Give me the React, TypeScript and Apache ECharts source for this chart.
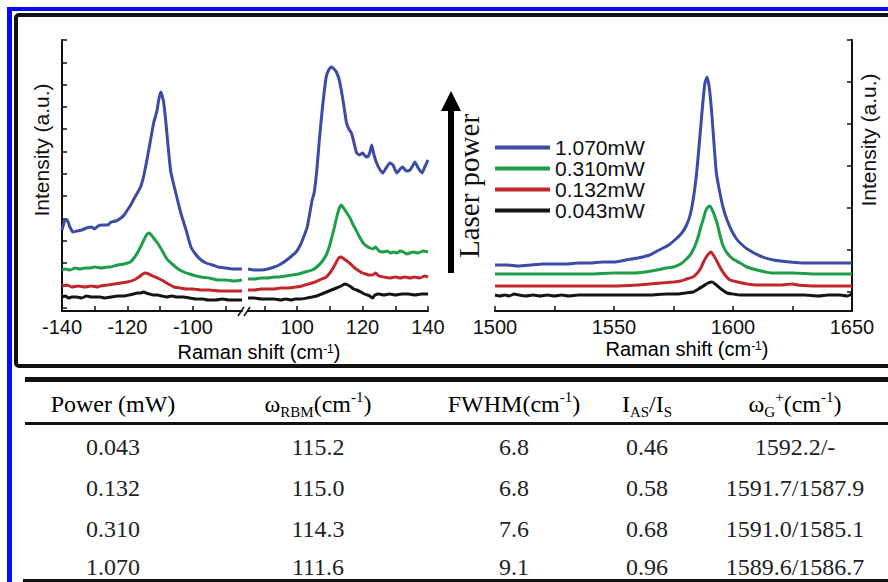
import React, { useEffect, useRef } from 'react';
import * as echarts from 'echarts';

// ---------- data ----------
const powers = ['1.070mW', '0.310mW', '0.132mW', '0.043mW'];
const colors = ['#3b4ca6', '#1f9d49', '#c1272d', '#151515'];

// Anti-Stokes RBM (left segment, -140 .. -85 cm-1), intensity a.u.
const asBlue = [[-140,81],[-139.2,90],[-138.4,91],[-137.6,84],[-136.6,79],[-135.5,80],[-134,81],[-132.5,83],[-131,84],[-130,82],[-129,85],[-127.5,86],[-126,86],[-125,89],[-123.5,90],[-122,93],[-121,96],[-120,101],[-119,106],[-118.2,111],[-117,118],[-116,124],[-115.1,134],[-114,152],[-113,170],[-112,188],[-111,200],[-110.4,212],[-109.8,219],[-109,210],[-108.3,190],[-107.5,162],[-106.8,140],[-106.2,131],[-105,115],[-103.7,98],[-102,80],[-100.6,64],[-99,56],[-97.5,51],[-96,48],[-94,46],[-92.3,44],[-90,43],[-88,42],[-86,42],[-85,42]];
const asGreen = [[-140,41],[-139,42],[-137.5,41],[-136,43],[-134.5,42],[-133,43],[-131.4,43],[-130,44],[-128,43],[-126,44],[-125.2,44],[-123,46],[-121,47],[-119.1,49],[-118,53],[-117,58],[-116,64],[-115,71],[-114.2,76],[-113.5,78],[-112.7,76],[-111.8,72],[-110.8,68],[-109.5,61],[-108.5,55],[-107.7,51],[-106,46],[-104.5,42],[-102.8,39],[-101,37],[-99,35],[-97.5,34],[-95,33],[-92.3,31],[-90,31],[-87.5,30],[-85,31]];
const asRed = [[-140,25],[-138.5,26],[-137,24],[-135,25],[-133,24],[-131,25],[-129,24],[-128.3,25],[-126,26],[-124,27],[-122,28],[-120,29],[-118,31],[-116.5,34],[-115.3,37],[-114.5,38],[-113.5,37],[-112.3,35],[-110.8,33],[-109,30],[-107.5,27],[-105.8,24],[-104,23],[-102,22],[-100,22],[-97.5,21],[-95,21],[-92,20],[-89,20],[-87,20],[-85,20]];
const asBlack = [[-140,14],[-139,15],[-138,13],[-137,14],[-135.5,14],[-134,13],[-132.5,15],[-131,14],[-129.5,14],[-128.3,14],[-127,13],[-125,14],[-123,15],[-121,15],[-119.5,16],[-118.2,17],[-117,18],[-116,18],[-115.1,19],[-114.3,18],[-113.3,17],[-112.2,16],[-110.8,16],[-109.5,15],[-108,14],[-106.5,15],[-105,14],[-102.8,14],[-101,13],[-99,12],[-97,12],[-95.4,11],[-93,11],[-91,12],[-89,11],[-87,11],[-85,11]];

// Stokes RBM (right segment, 85 .. 140 cm-1)
const sBlue = [[85,42],[87,41],[89.2,41],[91,42],[93,44],[94.5,46],[96,49],[98,54],[99.7,59],[101,66],[102,74],[103.1,84],[104,100],[104.6,111],[105.2,118],[106,140],[106.8,171],[107.8,205],[108.9,234],[109.8,242],[110.5,244],[111.3,242],[112,239],[112.8,232],[113.5,221],[114.3,205],[115.1,188],[115.8,182],[116.6,178],[117.4,168],[118.2,158],[119,156],[120,158],[120.8,155],[121.5,154],[122.2,158],[122.8,166],[123.5,156],[124.3,148],[125.2,142],[126.2,138],[127.2,143],[128.3,148],[129.3,146],[130.5,138],[131.5,142],[132.3,144],[133.3,140],[134.5,141],[135.3,145],[136,149],[137,143],[138.2,138],[139,144],[140,151]];
const sGreen = [[85,32],[87,32],[89,33],[91,33],[93,34],[94.5,34],[96.5,35],[98.5,36],[100.5,37],[102.5,39],[104.6,41],[106,44],[107.5,49],[108.9,56],[110,66],[110.8,76],[111.4,84],[112.2,95],[112.8,102],[113.5,106],[114.2,103],[115,99],[116,94],[117,87],[118,81],[119.1,74],[120.2,68],[121.2,65],[122.2,63],[123.2,62],[124,64],[125,60],[126.2,59],[127.5,60],[128.5,58],[129.5,59],[130.5,58],[131.5,60],[132.5,59],[133.5,57],[135.4,59],[137,58],[138.5,60],[140,59]];
const sRed = [[85,21],[87,21],[89,22],[91,22],[93,22],[95,23],[97,23],[99.7,24],[101.5,25],[103.5,27],[105.5,29],[107.5,32],[108.9,34],[110,38],[111,43],[112,49],[112.7,53],[113.5,54],[114.3,52],[115.2,50],[116,48],[117,45],[118,42],[119,40],[120,38],[121,37],[122,36],[123.1,36],[124,38],[125,35],[126.5,34],[128.3,33],[130,34],[131.5,33],[133,34],[134.5,33],[136,34],[137.5,33],[139,35],[140,34]];
const sBlack = [[85,13],[87,13],[89,12],[91,12],[93,12],[95,11],[96.5,12],[98.2,11],[99.5,12],[101,12],[103,13],[104.6,14],[106,15],[107.5,17],[109,19],[110.5,21],[112,23],[113.5,25],[114.5,27],[115.5,26],[116.5,24],[117.3,22],[118.2,21],[119.5,19],[120.5,17],[121.5,16],[122.2,15],[123.1,13],[123.8,16],[125,17],[126.5,16],[128.3,17],[130,16],[132,17],[134,17],[136,16],[138,17],[140,17]];

// G band (1500 .. 1650 cm-1)
const gBlue = [[1500,46],[1505,46],[1510,45],[1515,46],[1520,47],[1525,47],[1530,47],[1535,48],[1540,48],[1545,49],[1550,49],[1555,51],[1560,53],[1565,56],[1569,61],[1573,66],[1576,72],[1578.5,78],[1580.5,86],[1582,96],[1583.5,115],[1584.8,140],[1586,172],[1587.2,205],[1588.2,228],[1589.1,234],[1590,224],[1591,200],[1592,168],[1593,138],[1594.5,118],[1596,102],[1597.5,91],[1599.5,80],[1601.5,72],[1603,68],[1606,62],[1611.4,55],[1617,51],[1624,49],[1630,48],[1640,48],[1650,48]];
const gGreen = [[1500,37],[1510,37],[1520,37],[1530,37],[1540,37],[1550,38],[1558,38],[1563,39],[1568,41],[1572,43],[1575,44],[1578,47],[1580,51],[1582,56],[1583.2,61],[1584.5,68],[1585.6,76],[1586.5,84],[1587.4,91],[1588.5,100],[1589.5,104],[1590.3,105],[1591.3,101],[1592.3,95],[1593.3,88],[1594.5,76],[1595.7,66],[1597.5,58],[1600,52],[1603,48],[1605.9,44],[1610,41],[1616.8,38],[1625,38],[1635,37],[1650,37]];
const gRed = [[1500,25],[1510,25],[1520,25],[1530,25],[1540,25],[1550,25],[1560,26],[1565,27],[1570,28],[1575,29],[1578,30],[1580.5,32],[1583.2,34],[1585,38],[1586.5,43],[1587.4,48],[1588.5,53],[1589.7,57],[1590.8,59],[1592,55],[1593.2,50],[1594.5,44],[1596,38],[1598.7,31],[1602,29],[1606,27],[1610,26],[1620,26],[1625,27],[1627,26],[1635,25],[1650,25]];
const gBlack = [[1500,16],[1502,15],[1504,16],[1506,15],[1508,17],[1510,16],[1513,15],[1516,16],[1519,15],[1522,16],[1525,15],[1528,16],[1531,15],[1535,16],[1540,16],[1547,16],[1555,16],[1565,16],[1572,17],[1577,17],[1580,18],[1583.2,19],[1585.5,22],[1587.5,25],[1589.5,28],[1591.2,29],[1593,26],[1595,22],[1597.5,18],[1600,17],[1603,16],[1610,16],[1620,16],[1630,16],[1636,15],[1640,16],[1645,16],[1648,15],[1650,17]];

// ticks
const asXTicks = [-140, -130, -120, -110, -100, -90];
const asXLabels = [-140, -120, -100];
const sXTicks = [90, 100, 110, 120, 130, 140];
const sXLabels = [100, 120, 140];
const gXTicks = [1500, 1525, 1550, 1575, 1600, 1625, 1650];
const gXLabels = [1500, 1550, 1600, 1650];
const leftYTicks = [271, 248.7, 226.4, 204.1, 181.8, 159.5, 137.2, 114.9, 92.6, 70.3, 48, 25.7, 3.4];
const rightYTicks = [271, 229, 187, 145, 103, 61, 19];

// table
const tableHeaders = [
  '{t|Power (mW)}',
  '{t|ω}{sub|RBM}{t|(cm}{sup|-1}{t|)}',
  '{t|FWHM(cm}{sup|-1}{t|)}',
  '{t|I}{sub|AS}{t|/I}{sub|S}',
  '{t|ω}{sub|G}{sup|+}{t|(cm}{sup|-1}{t|)}',
];
const powerCol = ['0.043', '0.132', '0.310', '1.070'];
const rbmCol = ['115.2', '115.0', '114.3', '111.6'];
const fwhmCol = ['6.8', '6.8', '7.6', '9.1'];
const ratioCol = ['0.46', '0.58', '0.68', '0.96'];
const gPlusCol = ['1592.2/-', '1591.7/1587.9', '1591.0/1585.1', '1589.6/1586.7'];

const SANS = '"Liberation Sans", Arial, sans-serif';
const SERIF = '"Liberation Serif", "Times New Roman", serif';

export default function App() {
  const ref = useRef<HTMLDivElement>(null);
  useEffect(() => {
    document.body.style.margin = '0';
    const chart = echarts.init(ref.current!, null, { renderer: 'svg' });

    const axisLine = { show: true, lineStyle: { color: '#111', width: 2 } };
    const tickStyle = { color: '#111', width: 1.5 };
    const fmt = (v: number) => String(v);
    const labelBase = { fontSize: 20, color: '#111', margin: 6, formatter: fmt, fontFamily: SANS };

    const groups = [
      [asBlue, asGreen, asRed, asBlack],
      [sBlue, sGreen, sRed, sBlack],
      [gBlue, gGreen, gRed, gBlack],
    ];
    const series: any[] = [];
    groups.forEach((grp, gi) => {
      grp.forEach((data, i) => {
        series.push({
          type: 'line', name: powers[i], data, xAxisIndex: gi, yAxisIndex: gi,
          showSymbol: false, symbol: 'none', smooth: 0.15, silent: true,
          lineStyle: { color: colors[i], width: 3 }, itemStyle: { color: colors[i] },
        });
      });
    });

    const ramanRich = {
      a: { fontSize: 20, fontFamily: SANS, color: '#111', lineHeight: 19 },
      s: { fontSize: 12, fontFamily: SANS, color: '#111', lineHeight: 12, verticalAlign: 'top' },
    };
    const tableRich = {
      t: { fontSize: 24, fontFamily: SERIF, color: '#222', lineHeight: 30 },
      sub: { fontSize: 15, fontFamily: SERIF, color: '#222', lineHeight: 15, verticalAlign: 'bottom' },
      sup: { fontSize: 15, fontFamily: SERIF, color: '#222', lineHeight: 15, verticalAlign: 'top' },
    };

    const colX = [113, 318, 514, 647, 795];
    const rowY = [447, 488, 529, 567];
    const cols = [powerCol, rbmCol, fwhmCol, ratioCol, gPlusCol];
    const tableTexts: any[] = [];
    tableHeaders.forEach((h, c) => {
      tableTexts.push({ type: 'text', x: colX[c], y: 404, style: { text: h, rich: tableRich, align: 'center', verticalAlign: 'middle' } });
    });
    cols.forEach((col, c) => {
      col.forEach((v, r) => {
        tableTexts.push({ type: 'text', x: colX[c], y: rowY[r], style: { text: v, font: `24px ${SERIF}`, fill: '#222', align: 'center', verticalAlign: 'middle' } });
      });
    });

    const option: any = {
      animation: false,
      backgroundColor: '#fff',
      textStyle: { fontFamily: SANS },
      grid: [
        { left: 62, top: 40, width: 180, height: 271 },
        { left: 248, top: 40, width: 180, height: 271 },
        { left: 495, top: 40, width: 357, height: 271 },
      ],
      xAxis: [
        { type: 'value', gridIndex: 0, min: -140, max: -85, axisLine, splitLine: { show: false },
          axisTick: { inside: true, length: 5, lineStyle: tickStyle, customValues: asXTicks },
          axisLabel: { ...labelBase, customValues: asXLabels } },
        { type: 'value', gridIndex: 1, min: 85, max: 140, axisLine, splitLine: { show: false },
          axisTick: { inside: true, length: 5, lineStyle: tickStyle, customValues: sXTicks },
          axisLabel: { ...labelBase, customValues: sXLabels } },
        { type: 'value', gridIndex: 2, min: 1500, max: 1650, axisLine, splitLine: { show: false },
          axisTick: { inside: true, length: 5, lineStyle: tickStyle, customValues: gXTicks },
          axisLabel: { ...labelBase, customValues: gXLabels } },
      ],
      yAxis: [
        { type: 'value', gridIndex: 0, min: 0, max: 271, axisLine, splitLine: { show: false },
          axisTick: { inside: true, length: 5, lineStyle: tickStyle, customValues: leftYTicks },
          axisLabel: { show: false } },
        { type: 'value', gridIndex: 1, min: 0, max: 271, show: false },
        { type: 'value', gridIndex: 2, position: 'right', min: 0, max: 271, axisLine, splitLine: { show: false },
          axisTick: { inside: true, length: 5, lineStyle: tickStyle, customValues: rightYTicks },
          axisLabel: { show: false } },
      ],
      legend: {
        data: powers, orient: 'vertical', left: 490, top: 132, itemWidth: 55, itemHeight: 4, itemGap: 0,
        icon: 'rect', selectedMode: false,
        textStyle: { fontSize: 21, lineHeight: 21, color: '#111', fontFamily: SANS },
      },
      series,
      graphic: [
        // blue outer frame
        { type: 'rect', shape: { x: 7, y: 7, width: 881, height: 4 }, style: { fill: '#0a0aff' }, silent: true },
        { type: 'rect', shape: { x: 7, y: 7, width: 5, height: 575 }, style: { fill: '#0a0aff' }, silent: true },
        // black panel frame
        { type: 'rect', shape: { x: 16, y: 15, width: 900, height: 351, r: 3 }, style: { fill: 'none', stroke: '#111', lineWidth: 4 }, silent: true },
        // axis break marks
        { type: 'line', shape: { x1: 238, y1: 316, x2: 244, y2: 307 }, style: { stroke: '#111', lineWidth: 1.5 }, silent: true },
        { type: 'line', shape: { x1: 244, y1: 316, x2: 250, y2: 307 }, style: { stroke: '#111', lineWidth: 1.5 }, silent: true },
        // axis titles
        { type: 'text', x: 41, y: 150, rotation: Math.PI / 2, style: { text: 'Intensity (a.u.)', font: `21px ${SANS}`, fill: '#111', align: 'center', verticalAlign: 'middle' } },
        { type: 'text', x: 868, y: 140, rotation: Math.PI / 2, style: { text: 'Intensity (a.u.)', font: `21px ${SANS}`, fill: '#111', align: 'center', verticalAlign: 'middle' } },
        { type: 'text', x: 259, y: 352, style: { text: '{a|Raman shift (cm}{s|-1}{a|)}', rich: ramanRich, align: 'center', verticalAlign: 'middle' } },
        { type: 'text', x: 687, y: 349, style: { text: '{a|Raman shift (cm}{s|-1}{a|)}', rich: ramanRich, align: 'center', verticalAlign: 'middle' } },
        // laser power arrow
        { type: 'rect', shape: { x: 448, y: 108, width: 6, height: 165 }, style: { fill: '#000' }, silent: true },
        { type: 'polygon', shape: { points: [[441, 111], [451, 91], [461, 111]] }, style: { fill: '#000' }, silent: true },
        { type: 'text', x: 469, y: 186, rotation: Math.PI / 2, style: { text: 'Laser power', font: `29px ${SERIF}`, fill: '#111', align: 'center', verticalAlign: 'middle' } },
        // table rules
        { type: 'rect', shape: { x: 25, y: 377, width: 870, height: 5 }, style: { fill: '#111' }, silent: true },
        { type: 'rect', shape: { x: 25, y: 422, width: 870, height: 3 }, style: { fill: '#111' }, silent: true },
        { type: 'rect', shape: { x: 23, y: 579, width: 870, height: 3 }, style: { fill: '#111' }, silent: true },
        ...tableTexts,
      ],
    };
    chart.setOption(option);
    return () => chart.dispose();
  }, []);
  return <div ref={ref} style={{ position: 'absolute', left: 0, top: 0, width: 888, height: 582, background: '#fff' }} />;
}
